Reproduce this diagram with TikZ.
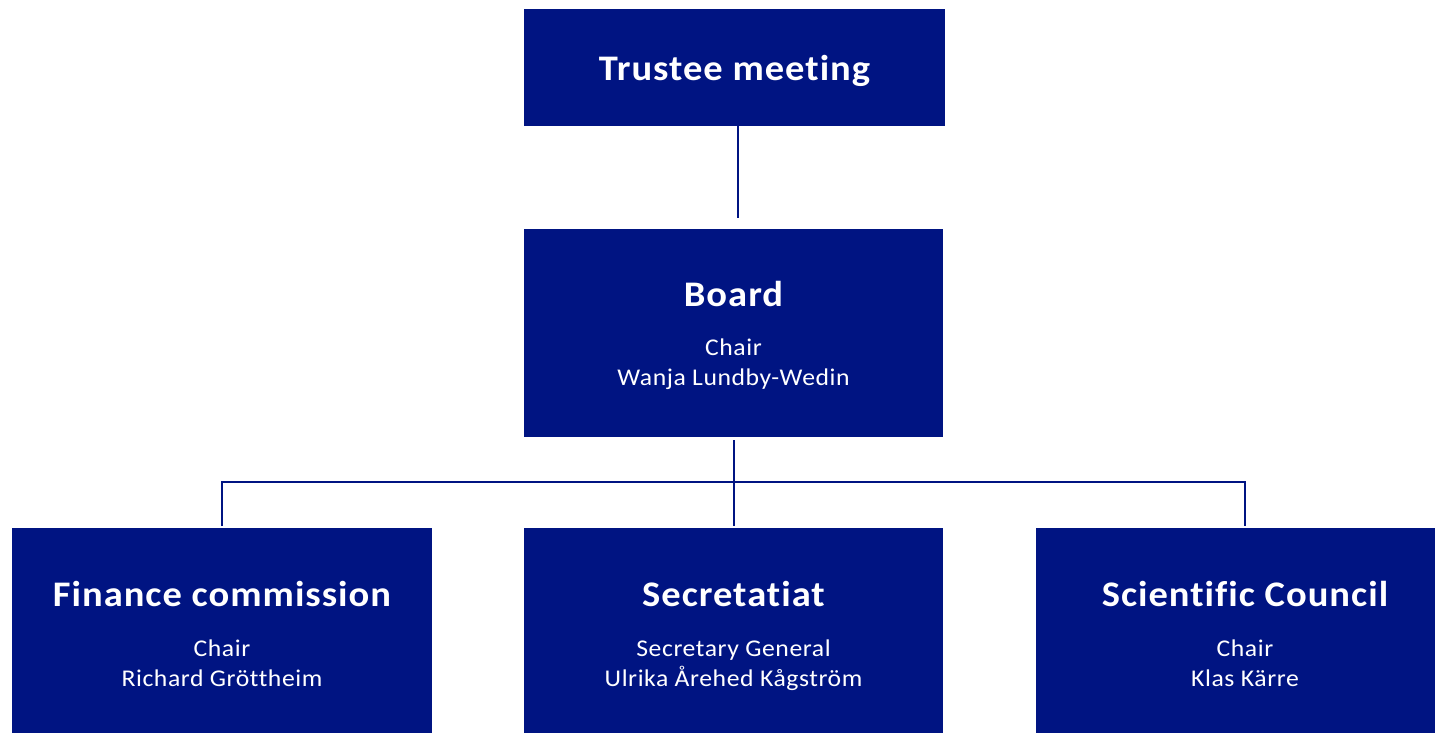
\documentclass[tikz,border=0pt]{standalone}
\usepackage{fontspec}
\setmainfont{Carlito}
\newfontfamily\ttlfont[FakeStretch=1.07,LetterSpace=2.8,Ligatures=NoCommon]{Carlito}
\newfontfamily\subfont[FakeStretch=1.07,LetterSpace=2.4,Ligatures=NoCommon]{Carlito}
\definecolor{navy}{RGB}{0,20,130}
\tikzset{
  orgbox/.style={fill=navy, draw=none, anchor=north west, inner sep=0pt},
  ttl/.style={text=white, font=\ttlfont\fontsize{36}{40}\selectfont\bfseries, inner sep=0pt, anchor=base},
  sub/.style={text=white, font=\subfont\fontsize{24}{29.5}\selectfont, align=center, inner sep=0pt, anchor=north},
  conn/.style={draw=navy, line width=2.4pt}
}
\begin{document}
\begin{tikzpicture}[x=1pt,y=1pt]
\useasboundingbox (0,0) rectangle (1435,-733);
% boxes
\node[orgbox, minimum width=421pt, minimum height=117pt] (trustee) at (524,-9) {};
\node[orgbox, minimum width=419pt, minimum height=208pt] (board) at (524,-229) {};
\node[orgbox, minimum width=420pt, minimum height=205pt] (fin) at (12,-528) {};
\node[orgbox, minimum width=419pt, minimum height=205pt] (sec) at (524,-528) {};
\node[orgbox, minimum width=399pt, minimum height=205pt] (sci) at (1036,-528) {};
% texts
\node[ttl] (ttrustee) at (734.5,-81) {Trustee meeting};
\node[ttl] (tboard) at (733.5,-306) {Board};
\node[sub] (sboard) at (733.5,-339) {Chair\\Wanja Lundby-Wedin};
\node[ttl] (tfin) at (222,-606) {Finance commission};
\node[sub] (sfin) at (222,-640) {Chair\\Richard Gröttheim};
\node[ttl] (tsec) at (733.5,-606) {Secretatiat};
\node[sub] (ssec) at (733.5,-640) {Secretary General\\Ulrika Årehed Kågström};
\node[ttl] (tsci) at (1245,-606) {Scientific Council};
\node[sub] (ssci) at (1245,-640) {Chair\\Klas Kärre};
% connectors
\coordinate (t1) at ([xshift=3.5pt]trustee.south);
\coordinate (t2) at ([xshift=4.5pt,yshift=11pt]board.north);
\draw[conn] (t1) -- (t2);
\coordinate (b1) at ([yshift=-3pt]board.south);
\coordinate (hub) at (733.5,-482);
\draw[conn] (b1) -- ([yshift=2pt]sec.north);
\draw[conn] ([yshift=2pt]fin.north) |- (hub) -| ([yshift=2pt]sci.north -| 1245,0);
\end{tikzpicture}
\end{document}
